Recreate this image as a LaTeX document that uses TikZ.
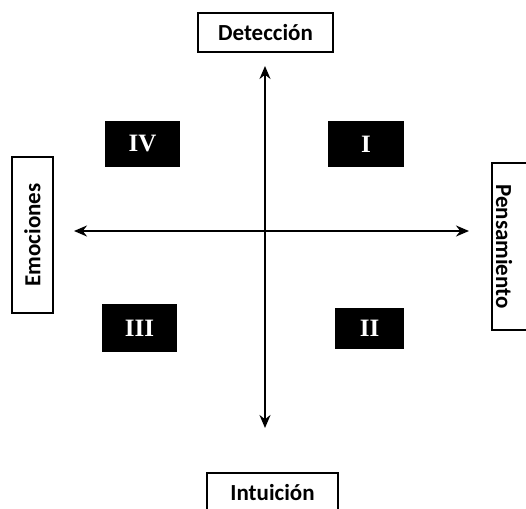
\documentclass[tikz,border=0pt]{standalone}
\usepackage{fontspec}
\setmainfont{Carlito}
\newfontfamily\romanfont{Liberation Serif}
\usetikzlibrary{arrows.meta}
\begin{document}
\begin{tikzpicture}[x=1pt,y=-1pt,
  labeltext/.style={font=\fontsize{23}{27}\selectfont\bfseries},
  labelbox/.style={draw=black,line width=1.3pt,fill=white,inner sep=0pt,labeltext},
  quad/.style={fill=black,inner sep=0pt,text=white,font=\romanfont\fontsize{25}{29}\selectfont\bfseries},
  axis/.style={line width=2pt,{Stealth[length=13pt,width=11pt]}-{Stealth[length=13pt,width=11pt]}}]
\useasboundingbox (0,0) rectangle (526,508);
\clip (0,0) rectangle (526,508);
% axes
\coordinate (top) at (265,66);
\coordinate (bottom) at (265,428);
\coordinate (left) at (74,231);
\coordinate (right) at (469,231);
\draw[axis] (top) -- (bottom);
\draw[axis] (left) -- (right);
% label boxes
\node[labelbox,minimum width=135pt,minimum height=39pt] (det) at (265.5,32.5) {Detección};
\node[labelbox,minimum width=131pt,minimum height=39pt] (int) at (272.5,492.5) {Intuición};
\node[labelbox,minimum width=156pt,minimum height=41pt,rotate=90] (emo) at (32.5,235) {Emociones};
\node[labelbox,minimum width=167pt,minimum height=40pt,rotate=-90] (pen) at (512,246.5) {};
\node[labeltext,rotate=-90,inner sep=0pt] (pentext) at (504,246.5) {Pensamiento};
% quadrant boxes
\node[quad,minimum width=75pt,minimum height=46pt] (q4) at (142.5,144) {IV};
\node[quad,minimum width=76pt,minimum height=46pt] (q1) at (366,144) {I};
\node[quad,minimum width=75pt,minimum height=48pt] (q3) at (139.5,328) {III};
\node[quad,minimum width=69pt,minimum height=41pt] (q2) at (369.5,328.5) {II};
\end{tikzpicture}
\end{document}
